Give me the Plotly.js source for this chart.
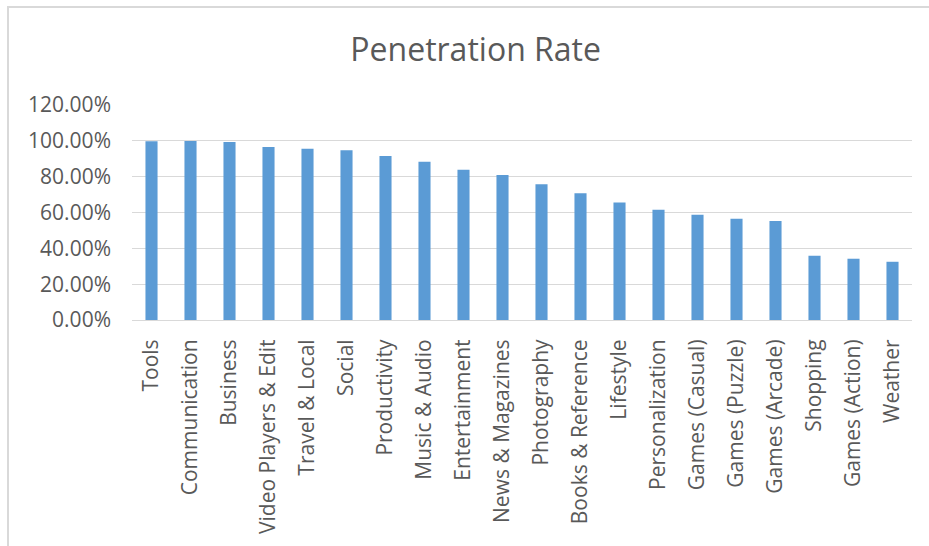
<!DOCTYPE html>
<html>
<head>
<meta charset="utf-8">
<script src="https://cdn.plot.ly/plotly-3.0.1.min.js"></script>
<style>
html,body{margin:0;padding:0;background:#fff;}
#frame{position:absolute;left:7px;top:6px;width:940px;height:560px;border:2px solid #d9d9d9;box-sizing:border-box;}
#chart{position:absolute;left:0;top:0;width:929px;height:546px;}
</style>
</head>
<body>
<div id="frame"></div>
<div id="chart"></div>
<script>
const categories = ["Tools","Communication","Business","Video Players & Edit","Travel & Local","Social","Productivity","Music & Audio","Entertainment","News & Magazines","Photography","Books & Reference","Lifestyle","Personalization","Games (Casual)","Games (Puzzle)","Games (Arcade)","Shopping","Games (Action)","Weather"];
const penetrationRate = [0.998,0.999,0.993,0.965,0.956,0.948,0.915,0.883,0.838,0.809,0.757,0.707,0.656,0.615,0.587,0.565,0.552,0.359,0.342,0.325];
const yTickValues = [0,0.2,0.4,0.6,0.8,1.0,1.2];

const trace = {
  type: 'bar',
  x: categories,
  y: penetrationRate,
  marker: {color: '#5b9bd5'},
  width: 0.31,
  hoverinfo: 'x+y'
};

const layout = {
  width: 929, height: 546,
  paper_bgcolor: 'rgba(0,0,0,0)',
  plot_bgcolor: 'rgba(0,0,0,0)',
  margin: {l: 132, r: 17, t: 105, b: 226},
  title: {text: 'Penetration Rate', x: 0.512, xanchor: 'center', y: 0.908, yanchor: 'middle',
          font: {family: 'Open Sans, sans-serif', size: 32, color: '#595959'}},
  showlegend: false,
  xaxis: {
    type: 'category',
    tickangle: -90,
    tickfont: {family: 'Open Sans, sans-serif', size: 21, color: '#595959'},
    ticklabelstandoff: 10,
    showgrid: false,
    showline: true, linecolor: '#d9d9d9', linewidth: 1,
    ticks: '', ticklen: 0
  },
  yaxis: {
    range: [0, 1.2],
    tickvals: yTickValues,
    tickformat: '.2%',
    tickfont: {family: 'Open Sans, sans-serif', size: 21, color: '#595959'},
    ticklabelstandoff: 20,
    gridcolor: '#d9d9d9', gridwidth: 1,
    zeroline: false, showline: false,
    ticks: '', ticklen: 0
  },
  bargap: 0.69
};

Plotly.newPlot('chart', [trace], layout, {displayModeBar: false, staticPlot: true});
</script>
</body>
</html>
